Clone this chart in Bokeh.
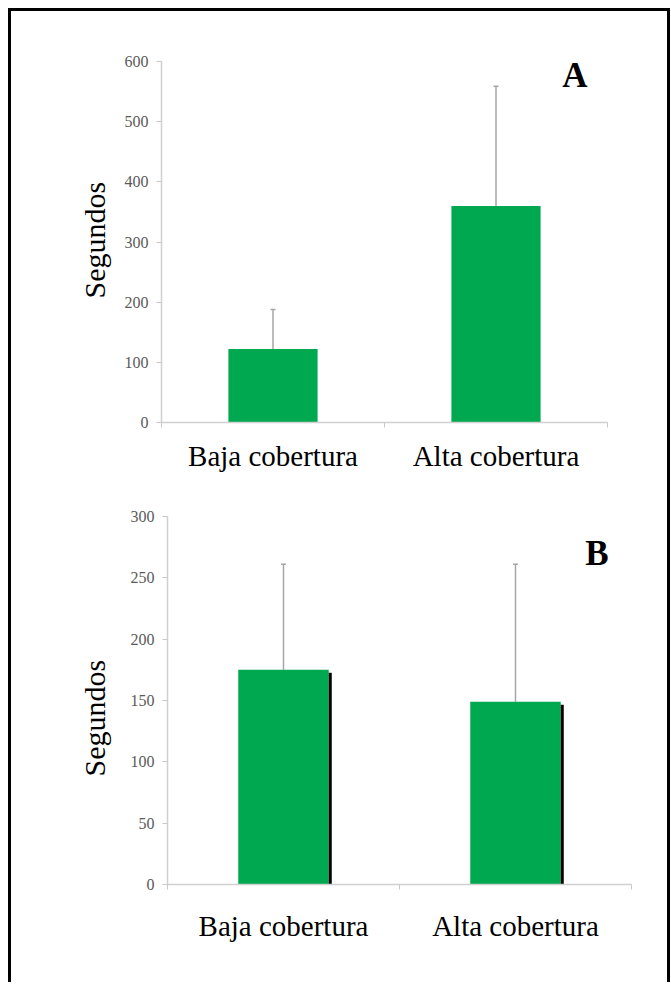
import math
from bokeh.plotting import figure
from bokeh.models import FixedTicker, Whisker, ColumnDataSource, Label, TeeHead, Range1d, Title
from bokeh.layouts import column, row
from bokeh.embed import file_html
from bokeh.resources import INLINE

categories = ["Baja cobertura", "Alta cobertura"]
a_means = [122, 360]
a_sd = [66, 199]
b_means = [175, 149]
b_sd = [86, 112]
a_yticks = [0, 100, 200, 300, 400, 500, 600]
b_yticks = [0, 50, 100, 150, 200, 250, 300]

GREEN = "#00A84F"
SERIF = "Liberation Serif"


def panel(means, sd, yticks, height, borders, bar_width, letter, letter_pos, ylab,
          shadow, cat_standoff):
    left, right, top, bottom = borders
    xs = [i + 0.5 for i in range(len(categories))]
    p = figure(width=656, height=height, output_backend="svg", toolbar_location=None,
               x_range=Range1d(0, len(categories)), y_range=Range1d(yticks[0], yticks[-1]),
               min_border_left=left, min_border_right=right,
               min_border_top=top, min_border_bottom=bottom)
    p.outline_line_color = None
    p.xgrid.visible = False
    p.ygrid.visible = False

    src = ColumnDataSource(dict(x=xs, top=means, upper=[m + s for m, s in zip(means, sd)]))
    p.vbar(x="x", top="top", width=bar_width, bottom=0, source=src,
           fill_color=GREEN, line_color=None)
    if shadow:
        unit = (yticks[-1] - yticks[0]) / 368.0
        sx = [x + bar_width / 2 + 0.0065 for x in xs]
        stop = [m - 3 * unit for m in means]
        p.vbar(x=sx, top=stop, width=0.013, bottom=0, fill_color="black", line_color=None)
    w = Whisker(base="x", upper="upper", lower="top", source=src,
                line_color="#a6a6a6", line_width=1.5,
                upper_head=TeeHead(size=5, line_color="#a6a6a6", line_width=1.5),
                lower_head=None)
    p.add_layout(w)

    ax = p.xaxis[0]
    ax.ticker = FixedTicker(ticks=xs, minor_ticks=list(range(len(categories) + 1)))
    ax.major_label_overrides = {x: c for x, c in zip(xs, categories)}
    ax.major_tick_line_color = None
    ax.major_tick_out = 0
    ax.major_tick_in = 0
    ax.minor_tick_line_color = "#c8c8c8"
    ax.minor_tick_in = 0
    ax.minor_tick_out = 5
    ax.axis_line_color = "#d0d0d0"
    ax.axis_line_width = 1.5
    ax.major_label_text_font = SERIF
    ax.major_label_text_font_size = "29px"
    ax.major_label_text_color = "black"
    ax.major_label_standoff = cat_standoff

    ay = p.yaxis[0]
    ay.ticker = FixedTicker(ticks=yticks)
    ay.major_tick_in = 0
    ay.major_tick_out = 5
    ay.major_tick_line_color = "#c8c8c8"
    ay.minor_tick_line_color = None
    ay.axis_line_color = "#d0d0d0"
    ay.axis_line_width = 1.5
    ay.major_label_text_font = SERIF
    ay.major_label_text_font_size = "16px"
    ay.major_label_text_color = "#5a5a5a"
    ay.major_label_standoff = 8

    ylab_offset, ylab_standoff = ylab
    p.add_layout(Title(text="Segundos", align="left", offset=ylab_offset,
                       standoff=ylab_standoff, text_font=SERIF, text_font_size="30px",
                       text_font_style="normal", text_color="black"), "left")

    # letter position relative to the plot frame (x from its left edge, y from its bottom edge)
    p.add_layout(Label(x=letter_pos[0], y=letter_pos[1], x_units="screen", y_units="screen",
                       text=letter, text_align="center", text_baseline="alphabetic",
                       text_font=SERIF, text_font_size="35px", text_font_style="bold",
                       text_color="black"))
    return p


pa = panel(a_means, a_sd, a_yticks, 465, (150, 60, 50, 54), 0.40, "A",
           (413.5, 347), (124, 21), False, 12)
pb = panel(b_means, b_sd, b_yticks, 506, (156, 36, 40, 98), 0.39, "B",
           (429.5, 331), (108, 34), True, 20)

layout = column(row(pa), row(pb), styles={"margin-left": "8px", "margin-top": "8px",
                                          "border-left": "3px solid black",
                                          "border-top": "3px solid black",
                                          "border-right": "3px solid black"})

open("out.html", "w").write(file_html(layout, INLINE))
